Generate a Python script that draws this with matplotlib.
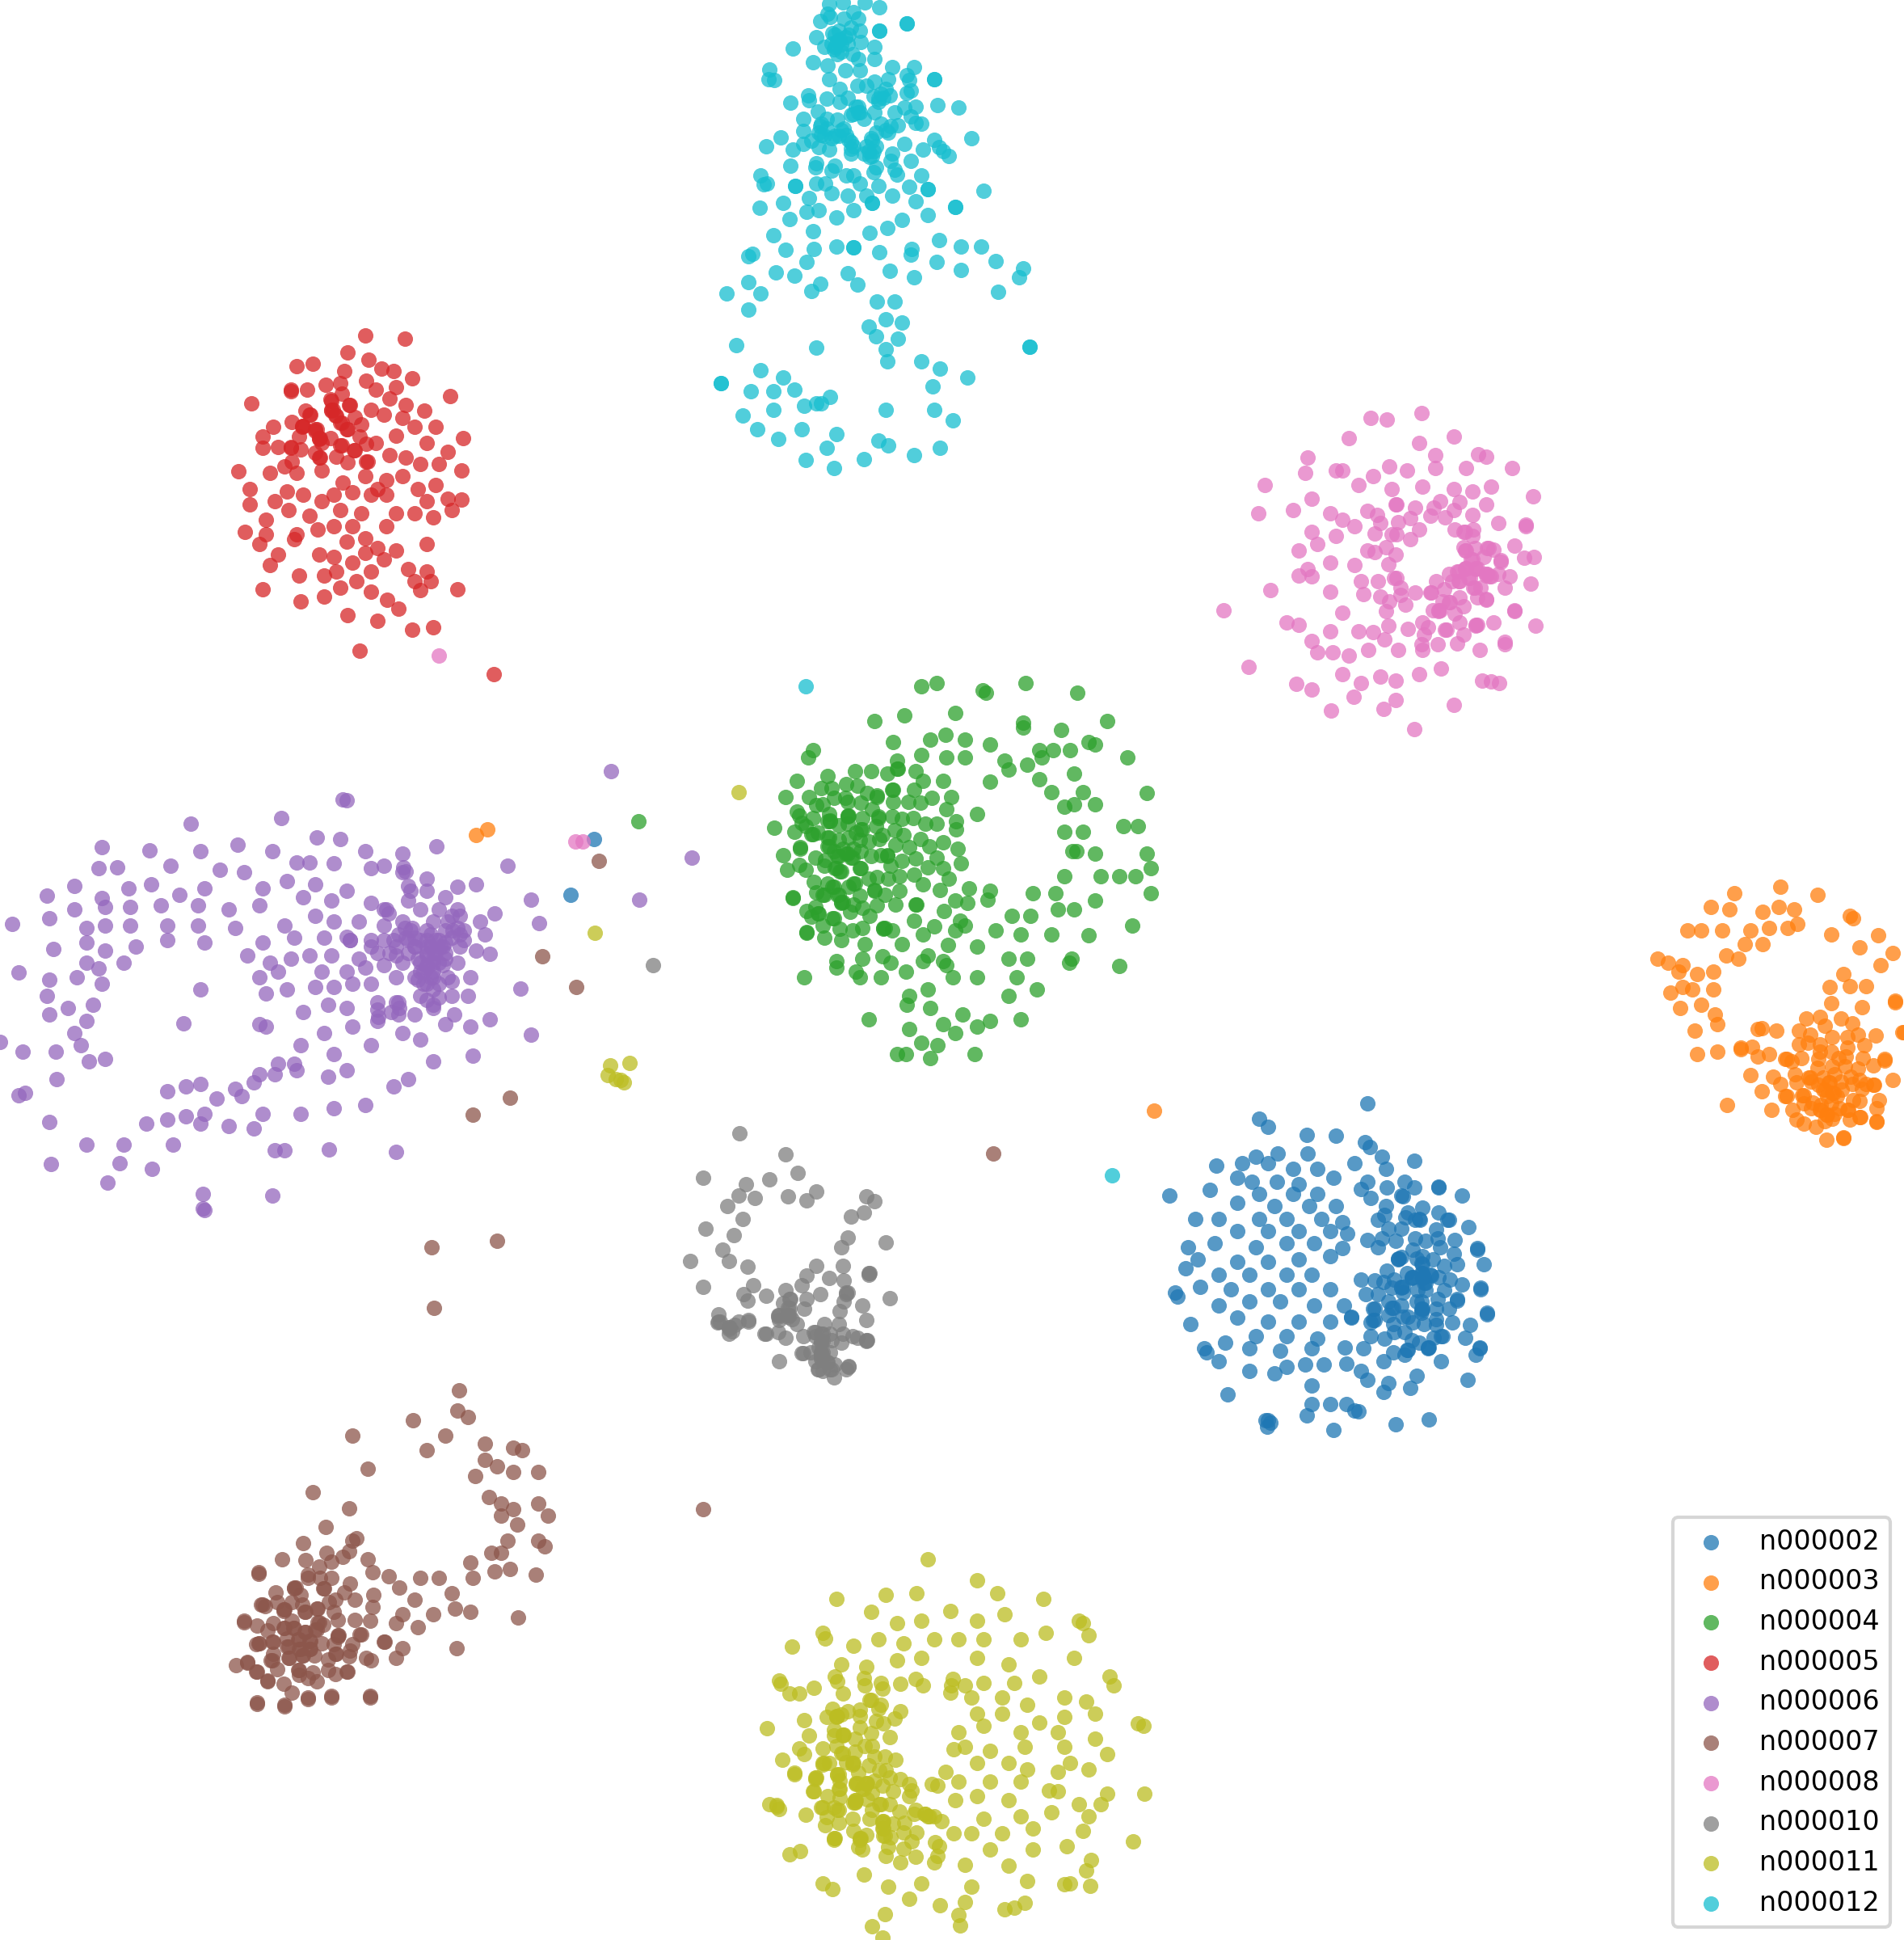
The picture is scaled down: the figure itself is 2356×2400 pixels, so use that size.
import matplotlib
matplotlib.use('Agg')
import matplotlib.pyplot as plt

labels = ['n000002', 'n000003', 'n000004', 'n000005', 'n000006',
          'n000007', 'n000008', 'n000010', 'n000011', 'n000012']

n000002 = [(1105,892),(1018,904),(1025,911),(1056,917),(1080,918),(1103,923),(1107,927),(1117,935),(1015,935),(1033,932),(1057,932),(1143,938),(1004,940),(1025,940),(983,942),(1045,945),(1065,945),(1095,940),(1120,945),(1000,952),(1012,955),(1032,955),(1050,957),(1078,952),(1105,955),(1135,955),(1163,959),(978,962),(1018,965),(1045,965),(1065,965),(945,966),(1000,972),(1030,975),(1058,975),(1080,975),(966,985),(985,985),(1018,985),(1040,985),(1068,985),(1000,995),(1025,995),(1050,995),(1075,995),(960,1008),(982,1005),(1015,1008),(1040,1005),(1062,1005),(968,1018),(1000,1020),(1025,1020),(1050,1018),(1075,1015),(958,1025),(985,1030),(1010,1030),(1040,1030),(1060,1030),(970,1040),(950,1045),(952,1048),(995,1042),(1025,1042),(1050,1042),(1075,1042),(985,1055),(1010,1052),(1035,1052),(1062,1055),(962,1070),(1000,1065),(1025,1068),(1050,1068),(1075,1068),(1015,1080),(1040,1080),(1065,1082),(973,1090),(990,1085),(1010,1090),(1035,1092),(1060,1090),(975,1093),(1040,1105),(1055,1103),(1070,1103),(1088,1102),(1100,1108),(1118,1100),(1135,1095),(1165,1100),(1193,1095),(1010,1108),(985,1100),(1030,1110),(1105,1115),(1122,1118),(1145,1112),(1186,1115),(1060,1120),(992,1127),(1060,1135),(1075,1135),(1088,1135),(1095,1140),(1098,1141),(1140,1122),(1118,1125),(1023,1148),(1025,1148),(1027,1150),(1024,1153),(1056,1144),(1078,1156),(1128,1151),(1155,1147),(461,723),(480,678),
           (1100,961),(1108,968),(1121,960),(1133,966),(1134,967),(1143,960),(1163,960),(1182,966),(1120,975),(1085,988),(1114,986),(1119,982),(1138,980),(1136,984),(1150,976),(1147,985),(1148,986),(1144,986),(1163,980),(1170,986),(1171,986),(1187,992),(1122,993),(1133,993),(1161,994),(1089,997),(1105,1002),(1117,1001),(1114,1008),(1128,1003),(1144,1001),(1152,1003),(1162,1001),(1176,1002),(1164,1008),(1194,1009),(1194,1010),(1085,1009),(1142,1010),(1175,1013),(1130,1017),(1131,1017),(1130,1018),(1133,1016),(1145,1017),(1150,1015),(1158,1018),(1199,1022),(1149,1021),(1150,1022),(1167,1023),(1178,1022),(1121,1027),(1137,1029),(1149,1029),(1150,1029),(1141,1032),(1142,1032),(1141,1033),(1150,1032),(1151,1032),(1150,1033),(1156,1030),(1157,1031),(1163,1032),(1172,1034),(1100,1034),(1111,1035),(1127,1034),(1118,1036),(1151,1037),(1152,1037),(1182,1038),(1197,1041),(1197,1042),(1125,1041),(1133,1040),(1134,1040),(1133,1041),(1104,1046),(1114,1046),(1134,1045),(1146,1043),(1152,1043),(1167,1043),(1162,1050),(1178,1050),(1178,1051),(1149,1052),(1145,1052),(1122,1052),(1133,1055),(1086,1055),(1110,1058),(1111,1058),(1125,1057),(1126,1057),(1149,1058),(1150,1058),(1149,1059),(1161,1058),(1171,1058),(1202,1061),(1202,1062),(1092,1064),(1092,1065),(1110,1067),(1111,1067),(1108,1069),(1122,1063),(1134,1064),(1149,1061),(1161,1066),(1138,1064),(1174,1069),(1126,1070),(1142,1069),(1151,1070),(1161,1071),(1188,1071),(1127,1077),(1135,1077),(1108,1080),(1119,1082),(1159,1081),(1165,1080),(1166,1080),(1184,1081),(1141,1083),(1147,1085),(1154,1089),(1155,1089),(1154,1090),(1087,1089),(1102,1090),(1137,1091),(1138,1091),(1196,1089),(1196,1090),(1126,1093)]

n000003 = [(1439,717),(1402,722),(1469,723),(1383,733),(1398,735),(1425,737),(1438,733),(1450,735),(1453,747),(1495,740),(1498,742),(1364,752),(1375,752),(1392,752),(1415,752),(1430,750),(1445,750),(1518,756),(1410,763),(1425,763),(1480,755),(1503,766),(1530,770),(1340,775),(1348,778),(1360,780),(1395,772),(1405,775),(1520,780),(1357,785),(1385,785),(1372,787),(1490,787),(1360,798),(1368,800),(1385,800),(1479,798),(1495,797),(1508,797),(1350,802),(1358,815),(1375,812),(1532,809),(1386,820),(1388,828),(1370,833),(1388,850),(1372,852),(1396,893),(933,898),(385,675),(394,670),
           (1480,811),(1505,814),(1532,810),(1460,823),(1471,822),(1475,829),(1488,823),(1497,827),(1421,832),(1424,831),(1436,833),(1454,833),(1463,836),(1481,838),(1493,838),(1502,836),(1516,837),(1538,834),(1539,834),(1454,844),(1461,843),(1471,844),(1471,850),(1493,847),(1507,845),(1416,846),(1407,847),(1407,848),(1480,850),(1421,854),(1430,852),(1443,856),(1444,856),(1448,858),(1456,855),(1470,856),(1486,855),(1492,854),(1506,855),(1523,856),(1523,857),(1514,861),(1469,863),(1481,862),(1491,862),(1502,864),(1415,869),(1433,870),(1451,868),(1462,871),(1463,871),(1474,871),(1483,868),(1496,870),(1503,873),(1530,873),(1439,876),(1452,875),(1464,874),(1470,877),(1478,875),(1479,875),(1488,874),(1497,876),(1508,876),(1514,877),(1515,877),(1505,880),(1424,882),(1443,886),(1444,886),(1457,885),(1458,885),(1474,881),(1475,881),(1481,883),(1482,883),(1489,881),(1477,886),(1485,886),(1498,889),(1503,890),(1519,889),(1458,892),(1465,891),(1472,893),(1480,892),(1517,896),(1432,897),(1449,897),(1464,896),(1471,897),(1472,897),(1493,897),(1494,897),(1487,896),(1476,901),(1477,901),(1483,900),(1452,905),(1458,908),(1468,911),(1475,906),(1481,904),(1495,905),(1503,903),(1504,903),(1517,906),(1517,907),(1476,921),(1490,919),(1490,920)]

n000004 = [(757,552),(745,555),(794,558),(797,560),(829,552),(871,560),(772,576),(731,578),(707,583),(827,584),(827,588),(858,590),(895,583),(752,598),(764,594),(722,600),(780,598),(800,602),(880,600),(885,602),(840,606),(865,606),(851,606),(657,606),(653,612),(725,615),(745,610),(765,612),(780,612),(812,615),(830,618),(842,612),(868,625),(911,612),(800,632),(815,622),(840,630),(850,640),(875,640),(927,641),(860,652),(868,650),(885,650),(790,658),(908,668),(920,668),(860,672),(875,672),(870,688),(885,690),(927,690),(867,688),(918,708),(905,708),(890,708),(930,702),(860,708),(930,722),(783,718),(800,720),(835,722),(853,722),(782,730),(798,727),(885,728),(855,735),(818,740),(833,740),(868,735),(915,748),(780,748),(805,752),(825,755),(850,755),(880,756),(790,765),(815,775),(866,775),(864,778),(830,775),(676,782),(692,785),(720,778),(765,780),(905,781),(650,790),(695,790),(712,790),(732,785),(770,790),(790,790),(822,790),(735,805),(750,800),(815,805),(838,800),(702,824),(733,812),(752,815),(778,820),(800,825),(825,824),(762,828),(772,835),(790,830),(735,832),(745,843),(725,852),(732,852),(758,845),(752,855),(788,852),(516,664),
           (644,631),(669,627),(691,623),(704,623),(717,625),(725,621),(726,621),(740,623),(746,631),(762,631),(664,637),(672,637),(684,634),(693,635),(721,638),(722,638),(739,638),(635,644),(654,644),(674,645),(683,645),(685,648),(701,641),(709,643),(709,644),(722,648),(734,648),(744,649),(753,645),(769,644),(660,651),(665,650),(696,649),(705,654),(765,654),(644,656),(646,659),(657,661),(670,658),(685,659),(686,659),(685,660),(697,661),(710,660),(710,661),(721,660),(729,662),(738,661),(748,666),(757,666),(773,664),(773,670),(626,669),(642,672),(648,665),(651,668),(656,674),(657,674),(661,673),(671,663),(671,664),(669,664),(678,667),(685,666),(696,670),(697,670),(692,673),(708,668),(723,671),(730,675),(744,678),(669,677),(670,677),(669,684),(670,684),(678,679),(686,677),(695,679),(702,680),(713,675),(711,678),(724,683),(735,685),(751,684),(762,681),(774,686),(647,685),(647,686),(633,691),(659,693),(667,695),(674,688),(681,686),(684,690),(685,690),(690,686),(696,688),(688,693),(689,693),(677,692),(678,692),(704,692),(712,691),(717,691),(717,692),(729,696),(740,694),(757,693),(646,699),(636,703),(651,703),(666,700),(675,702),(676,702),(679,704),(680,704),(695,702),(696,702),(720,700),(750,701),(762,702),(777,698),(658,713),(702,710),(709,709),(718,710),(727,708),(739,707),(767,710),(746,715),(690,714),(691,714),(686,717),(669,714),(673,717),(674,717),(707,719),(707,720),(760,719),(665,723),(666,723),(660,721),(677,723),(678,723),(695,724),(715,723),(727,720),(641,725),(641,726),(680,729),(681,729),(680,730),(772,728),(690,731),(659,733),(709,732),(724,731),(740,731),(741,731),(763,736),(652,736),(661,738),(662,738),(656,741),(687,737),(697,734),(703,740),(673,742),(674,742),(739,744),(776,744),(665,748),(755,749),(652,753),(652,754),(679,751),(689,752),(697,750),(714,750),(715,750),(714,751),(721,752),(772,752),(746,755),(666,758),(680,760),(699,763),(729,763),(766,764),(750,772),(697,775),(713,773),(676,777),(746,777),(762,777)]

n000005 = [(295,271),(327,274),(281,285),(253,294),(298,291),(308,298),(318,300),(240,296),(320,313),(333,306),(203,326),(364,320),(315,322),(328,327),(343,332),(310,335),(325,338),(335,345),(352,345),(374,354),(320,352),(345,358),(362,365),(212,353),(212,362),(315,368),(328,370),(340,375),(355,375),(373,380),(193,381),(218,382),(240,382),(260,380),(277,390),(295,385),(312,388),(325,385),(338,395),(352,392),(202,395),(232,397),(245,400),(260,405),(270,400),(285,398),(300,400),(312,400),(305,395),(345,405),(362,403),(373,404),(202,408),(222,405),(233,412),(250,417),(275,412),(292,415),(320,415),(335,415),(350,418),(365,412),(198,430),(215,420),(240,432),(257,428),(270,425),(285,425),(312,425),(215,432),(210,440),(238,436),(280,438),(295,435),(320,445),(295,447),(305,443),(225,448),(258,448),(270,450),(345,440),(310,452),(285,455),(272,462),(218,457),(242,465),(300,462),(262,465),(330,460),(345,462),(348,470),(335,470),(288,470),(275,475),(300,478),(212,476),(243,486),(262,482),(313,485),(322,492),(370,476),(340,477),(281,497),(305,502),(333,509),(350,507),(291,526),(399,545),
           (235,315),(235,316),(248,315),(263,311),(275,310),(278,300),(296,308),(276,318),(304,315),(267,323),(268,324),(268,331),(269,331),(268,332),(282,327),(283,327),(300,331),(247,332),(250,335),(251,335),(271,336),(272,336),(275,342),(276,342),(236,341),(221,345),(244,344),(245,344),(244,345),(255,347),(256,347),(255,348),(280,347),(281,347),(287,337),(292,343),(242,353),(258,354),(259,354),(258,355),(267,354),(291,353),(225,361),(235,361),(235,362),(243,363),(260,358),(275,360),(276,360),(296,359),(304,358),(255,366),(258,370),(259,370),(286,364),(287,364),(272,369),(236,373),(230,377),(281,374),(296,373),(297,373)]

n000006 = [(277,646),(280,647),(227,661),(154,666),(256,677),(275,678),(353,684),(82,685),(121,687),(162,688),(192,683),(220,688),(295,688),(325,690),(410,700),(60,716),(38,724),(95,701),(80,702),(138,700),(178,703),(197,705),(240,697),(250,697),(270,698),(300,702),(310,700),(325,705),(82,726),(104,718),(122,715),(145,723),(165,718),(212,718),(232,712),(255,715),(280,720),(345,710),(370,717),(385,715),(429,727),(10,747),(60,735),(85,733),(105,733),(130,732),(160,732),(185,735),(210,732),(245,725),(268,728),(300,730),(312,735),(330,728),(345,720),(360,725),(400,738),(40,742),(43,767),(70,750),(85,748),(105,748),(135,748),(160,748),(190,750),(230,748),(255,740),(270,745),(290,745),(310,748),(325,745),(340,735),(355,735),(372,740),(388,745),(436,746),(70,762),(85,768),(110,765),(135,760),(165,762),(212,762),(238,758),(262,758),(283,760),(300,760),(318,760),(333,750),(345,752),(360,752),(375,752),(392,755),(70,778),(80,783),(100,778),(200,772),(218,778),(235,775),(250,772),(268,772),(290,775),(305,770),(320,772),(335,765),(345,765),(358,765),(372,765),(385,768),(396,771),(15,786),(40,792),(62,790),(82,795),(162,800),(210,790),(225,785),(260,785),(280,785),(295,782),(310,780),(325,778),(340,778),(355,778),(370,778),(38,805),(55,815),(75,812),(215,803),(232,800),(255,798),(270,798),(285,795),(300,795),(320,790),(335,790),(350,790),(362,790),(380,790),(421,799),(70,825),(60,835),(40,820),(45,850),(215,830),(210,828),(148,827),(245,818),(265,812),(280,815),(305,810),(320,810),(340,805),(350,800),(365,805),(378,805),(396,824),(0,842),(18,850),(65,845),(243,845),(262,835),(285,830),(305,825),(322,820),(335,820),(350,815),(367,820),(429,836),(15,885),(20,883),(46,872),(72,858),(85,856),(225,860),(238,860),(270,852),(300,845),(325,835),(340,840),(360,828),(380,830),(210,868),(222,868),(240,865),(280,865),(350,858),(382,853),(330,872),(318,878),(150,878),(162,876),(135,882),(190,880),(205,875),(265,870),(175,888),(195,886),(270,896),(295,893),(150,902),(165,900),(212,900),(243,900),(40,907),(118,908),(135,905),(162,908),(185,910),(205,912),(100,925),(70,925),(140,925),(222,930),(230,930),(266,929),(320,931),(41,941),(97,940),(123,945),(87,956),(164,965),(220,966),(164,977),(165,978),(345,770),(350,775),(340,760),(355,760),(330,770),(335,758),(360,770),(365,758),(348,755),(342,785),(350,785),(345,795),(338,775),(328,758),(370,750),(362,745),(350,745),(345,780),(352,768),(358,780),(375,760),(320,765),(310,760),(315,770),(300,765),(494,623),(559,693),(517,727),
           (322,755),(327,750),(332,752),(345,760),(348,765),(352,760),(356,765),(360,762),(345,772),(350,778),(352,770),(345,782),(340,785),(338,792),(342,795),(348,790),(355,795),(365,793),(345,808),(350,812),(355,806),(322,810),(323,815),(305,816),(306,822),(310,735),(314,738),(370,735),(365,740),(366,752),(372,755),(280,757),(283,760),(330,716),(332,720),(326,701),(328,704),(360,775),(335,765),(330,760),(316,818)]

n000007 = [(371,1124),(334,1148),(370,1140),(378,1145),(285,1160),(360,1160),(345,1172),(392,1167),(415,1170),(422,1172),(392,1180),(297,1187),(402,1185),(384,1193),(415,1190),(435,1190),(253,1206),(395,1210),(405,1215),(415,1220),(435,1215),(282,1219),(405,1225),(443,1225),(263,1234),(418,1232),(435,1245),(440,1250),(285,1245),(288,1243),(245,1247),(410,1245),(380,1263),(405,1255),(397,1255),(382,1275),(400,1270),(412,1268),(433,1273),(355,1275),(340,1275),(323,1283),(365,1288),(335,1293),(368,1300),(380,1303),(350,1305),(419,1307),(325,1305),(320,1312),(338,1315),(369,1332),(325,1332),(320,1340),(484,696),(438,773),(466,798),(382,901),(412,887),(803,932),(349,1008),(402,1003),(351,1057),(568,1220),
           (228,1260),(247,1261),(258,1266),(268,1262),(264,1255),(277,1258),(282,1254),(297,1260),(301,1271),(314,1274),(209,1271),(209,1272),(249,1273),(249,1275),(259,1275),(268,1275),(238,1283),(239,1283),(238,1284),(283,1280),(261,1284),(262,1284),(278,1287),(223,1287),(243,1289),(302,1289),(211,1297),(212,1297),(214,1298),(224,1295),(236,1295),(271,1293),(287,1293),(229,1301),(230,1301),(229,1302),(244,1297),(266,1295),(301,1299),(246,1303),(247,1303),(256,1300),(257,1300),(270,1303),(197,1310),(197,1311),(208,1314),(221,1312),(236,1310),(257,1311),(258,1311),(273,1309),(287,1309),(299,1310),(261,1313),(216,1318),(229,1316),(230,1316),(237,1316),(238,1316),(246,1319),(247,1319),(255,1317),(256,1317),(273,1322),(274,1322),(273,1323),(291,1321),(292,1321),(220,1327),(221,1327),(232,1324),(241,1325),(242,1325),(250,1326),(251,1326),(260,1328),(270,1329),(209,1328),(210,1328),(207,1329),(310,1327),(311,1327),(232,1331),(233,1331),(242,1333),(243,1333),(250,1333),(251,1333),(285,1329),(283,1334),(271,1337),(272,1337),(221,1337),(233,1340),(234,1340),(244,1338),(245,1338),(254,1338),(265,1341),(282,1339),(296,1340),(300,1342),(219,1342),(220,1342),(200,1343),(200,1344),(191,1346),(207,1351),(208,1351),(224,1349),(241,1350),(242,1350),(253,1352),(265,1350),(271,1353),(280,1351),(281,1351),(216,1358),(216,1359),(229,1361),(242,1354),(249,1356),(256,1359),(236,1368),(208,1376),(208,1377),(230,1378),(230,1379),(249,1372),(249,1373),(268,1371),(268,1372),(299,1371),(299,1372)]

n000008 = [(1149,334),(1108,338),(1121,339),(1090,354),(1147,358),(1175,353),(1195,367),(1201,369),(1057,370),(1055,382),(1080,380),(1085,380),(1123,377),(1137,380),(1160,368),(1160,378),(1185,378),(1222,378),(1022,392),(1060,403),(1098,392),(1110,385),(1125,395),(1150,393),(1175,395),(1190,397),(1205,393),(1239,401),(1017,415),(1045,412),(1075,415),(1085,420),(1105,413),(1060,430),(1095,425),(1050,445),(1065,440),(1080,433),(1105,445),(1057,460),(1075,455),(1095,457),(1050,465),(1060,466),(1100,470),(1027,477),(1075,478),(1102,480),(1085,495),(989,493),(1040,503),(1050,505),(1060,518),(1075,510),(1098,510),(1065,527),(1077,527),(1090,530),(1106,525),(1130,525),(1150,525),(1196,525),(1009,539),(1048,553),(1060,557),(1085,545),(1100,552),(1116,547),(1128,550),(1147,545),(1165,540),(1198,550),(1205,551),(1212,552),(1076,574),(1094,563),(1118,573),(1128,566),(1175,570),(1143,589),(355,530),(465,680),(471,680),
           (1128,408),(1129,408),(1144,410),(1159,410),(1164,405),(1175,412),(1180,406),(1201,408),(1113,416),(1156,417),(1168,418),(1190,416),(1116,423),(1130,422),(1140,419),(1211,423),(1233,424),(1233,425),(1147,428),(1176,428),(1183,430),(1184,430),(1191,428),(1111,431),(1125,432),(1129,432),(1140,436),(1190,433),(1183,442),(1120,442),(1184,445),(1185,445),(1192,443),(1202,443),(1203,443),(1207,444),(1224,441),(1128,448),(1111,446),(1189,452),(1190,452),(1199,450),(1213,453),(1213,454),(1232,451),(1240,450),(1122,456),(1193,459),(1194,459),(1193,460),(1184,459),(1185,459),(1184,460),(1178,462),(1179,462),(1171,464),(1201,464),(1202,464),(1201,465),(1204,466),(1205,466),(1211,464),(1220,466),(1129,467),(1127,467),(1114,470),(1161,470),(1187,467),(1188,467),(1179,470),(1180,470),(1174,470),(1237,472),(1132,475),(1216,475),(1167,476),(1191,475),(1192,475),(1197,475),(1156,479),(1157,479),(1144,479),(1116,482),(1132,481),(1123,486),(1194,483),(1180,483),(1201,484),(1201,485),(1136,489),(1166,486),(1171,487),(1172,487),(1183,490),(1120,494),(1163,493),(1164,493),(1163,494),(1158,493),(1176,496),(1224,493),(1224,494),(1180,503),(1150,503),(1207,503),(1193,505),(1194,505),(1193,506),(1122,506),(1138,508),(1154,507),(1151,513),(1168,509),(1169,509),(1241,506),(1110,511),(1183,513),(1119,517),(1216,519),(1149,521),(1162,521),(1178,520),(1216,521)]

n000010 = [(598,916),(635,933),(568,952),(645,948),(603,957),(622,953),(597,966),(610,968),(588,975),(637,967),(660,963),(652,970),(700,967),(707,971),(600,985),(570,993),(593,998),(688,983),(698,980),(716,1004),(685,1000),(680,1008),(558,1019),(584,1010),(719,1049),(528,780),
           (589,1019),(604,1024),(660,1023),(681,1023),(702,1029),(703,1029),(702,1030),(652,1031),(670,1033),(568,1040),(609,1039),(648,1039),(682,1035),(601,1046),(604,1051),(619,1047),(635,1043),(663,1046),(684,1045),(685,1045),(684,1046),(638,1050),(639,1050),(633,1053),(652,1050),(682,1052),(697,1055),(650,1058),(637,1057),(638,1057),(679,1060),(581,1062),(629,1063),(630,1063),(629,1064),(637,1063),(638,1063),(637,1064),(700,1067),(581,1068),(582,1068),(597,1068),(605,1067),(580,1069),(605,1068),(630,1067),(640,1066),(589,1073),(590,1073),(589,1074),(594,1071),(592,1076),(589,1078),(644,1070),(666,1070),(678,1070),(618,1078),(619,1078),(629,1077),(635,1081),(649,1080),(658,1077),(659,1077),(659,1080),(664,1078),(665,1078),(671,1078),(681,1078),(689,1080),(693,1081),(700,1083),(701,1083),(700,1084),(664,1084),(665,1084),(664,1085),(672,1083),(680,1085),(662,1089),(648,1094),(649,1094),(655,1093),(664,1093),(665,1093),(664,1094),(671,1093),(664,1097),(665,1097),(664,1098),(659,1100),(630,1100),(668,1101),(669,1101),(675,1103),(686,1104),(686,1105),(661,1107),(662,1107),(671,1107),(672,1107),(665,1108),(684,1107),(674,1113)]

n000011 = [(750,1260),(790,1277),(741,1288),(716,1289),(806,1288),(843,1292),(676,1292),(768,1302),(704,1303),(872,1310),(875,1312),(880,1322),(665,1320),(667,1324),(725,1312),(745,1310),(790,1310),(812,1305),(640,1331),(690,1330),(710,1325),(730,1328),(755,1325),(775,1325),(795,1325),(825,1325),(845,1320),(680,1345),(700,1347),(725,1342),(745,1340),(790,1340),(815,1345),(868,1340),(897,1355),(900,1362),(630,1358),(675,1355),(698,1356),(740,1357),(770,1357),(780,1362),(795,1360),(820,1360),(840,1355),(785,1372),(810,1372),(830,1378),(860,1372),(878,1375),(885,1385),(790,1385),(810,1385),(840,1392),(860,1388),(620,1397),(920,1393),(924,1395),(775,1400),(795,1395),(825,1400),(855,1400),(885,1405),(780,1412),(800,1415),(828,1412),(860,1412),(895,1418),(790,1425),(815,1425),(830,1430),(865,1425),(880,1430),(775,1440),(800,1440),(825,1440),(855,1432),(848,1447),(895,1450),(925,1450),(772,1455),(790,1452),(815,1455),(855,1448),(872,1458),(890,1458),(622,1458),(795,1470),(825,1468),(850,1465),(880,1468),(785,1482),(810,1482),(835,1478),(875,1480),(916,1488),(800,1495),(835,1495),(862,1492),(728,1505),(755,1505),(780,1507),(815,1508),(882,1503),(878,1512),(665,1522),(673,1527),(698,1515),(718,1525),(745,1522),(785,1525),(830,1520),(860,1523),(865,1522),(881,1524),(735,1535),(760,1540),(780,1537),(812,1543),(820,1542),(828,1538),(715,1547),(775,1548),(776,1556),(705,1557),(713,1566),(597,640),(481,754),(493,861),(509,859),(491,869),(498,872),(504,875),(502,873),
           (631,1361),(638,1369),(646,1369),(658,1364),(677,1359),(681,1369),(699,1362),(713,1365),(712,1360),(728,1361),(746,1362),(769,1362),(768,1368),(703,1374),(704,1374),(712,1378),(710,1381),(673,1381),(685,1383),(695,1382),(728,1383),(668,1388),(676,1387),(677,1387),(676,1388),(680,1386),(695,1387),(650,1390),(723,1389),(708,1391),(714,1393),(674,1398),(695,1396),(704,1401),(654,1403),(681,1402),(682,1402),(681,1403),(674,1403),(691,1405),(719,1404),(665,1413),(676,1411),(699,1411),(705,1411),(646,1413),(650,1418),(680,1417),(681,1417),(691,1416),(771,1414),(632,1422),(665,1425),(666,1425),(665,1426),(670,1425),(684,1424),(689,1425),(690,1425),(689,1426),(707,1420),(715,1420),(724,1422),(702,1427),(764,1432),(642,1433),(642,1434),(677,1434),(678,1434),(677,1435),(711,1431),(716,1431),(694,1433),(659,1437),(660,1437),(659,1438),(728,1438),(719,1437),(679,1439),(692,1441),(693,1441),(692,1442),(700,1441),(701,1441),(700,1442),(707,1439),(713,1443),(735,1442),(753,1442),(758,1443),(657,1448),(658,1448),(678,1446),(679,1446),(697,1446),(698,1446),(705,1449),(722,1448),(737,1447),(735,1452),(669,1452),(679,1453),(691,1455),(692,1455),(691,1456),(701,1454),(711,1458),(712,1458),(719,1458),(628,1459),(628,1460),(630,1462),(664,1461),(665,1461),(674,1461),(677,1463),(678,1463),(690,1457),(691,1457),(705,1463),(727,1464),(740,1463),(747,1466),(748,1466),(750,1468),(751,1468),(755,1468),(651,1467),(668,1469),(689,1470),(703,1470),(713,1472),(714,1472),(713,1473),(739,1466),(761,1472),(678,1473),(667,1475),(731,1473),(722,1474),(713,1478),(714,1478),(690,1480),(700,1483),(741,1481),(771,1482),(730,1481),(714,1484),(715,1484),(720,1485),(674,1486),(675,1486),(674,1487),(695,1486),(696,1486),(695,1487),(737,1488),(756,1489),(759,1492),(694,1493),(697,1495),(718,1493),(730,1494),(638,1499),(647,1496),(716,1500),(740,1501),(758,1500)]

n000012 = [(670,3),(681,2),(699,2),(711,6),(733,19),(733,19),(669,11),(663,17),(671,14),(682,15),(690,10),(694,15),(711,25),(711,25),(660,30),(673,27),(679,32),(686,28),(695,25),(696,34),(641,39),(707,38),(666,38),(675,38),(677,44),(689,44),(694,48),(707,48),(657,50),(669,53),(683,57),(695,57),(721,54),(739,54),(622,56),(621,64),(626,65),(670,64),(733,61),(735,65),(755,64),(755,64),(707,66),(718,64),(693,69),(700,69),(716,72),(679,72),(736,73),(733,75),(653,77),(654,81),(639,83),(668,80),(679,82),(685,79),(706,78),(714,79),(710,82),(719,77),(758,85),(775,87),(694,86),(661,90),(694,91),(707,91),(723,91),(731,87),(740,86),(649,96),(668,96),(677,97),(688,93),(698,96),(712,100),(736,94),(740,99),(745,100),(726,101),(649,106),(663,102),(664,109),(682,104),(675,110),(708,107),(718,107),(785,112),(755,113),(631,111),(619,118),(641,121),(649,116),(656,114),(662,119),(670,121),(688,115),(705,114),(731,116),(746,121),(759,119),(762,122),(767,126),(688,124),(706,122),(703,127),(721,124),(720,130),(736,130),(660,132),(639,134),(659,135),(675,134),(672,138),(684,142),(690,142),(706,139),(708,135),(723,137),(725,141),(745,142),(615,142),(620,148),(617,149),(643,150),(643,150),(660,148),(667,148),(695,148),(710,150),(735,151),(750,153),(750,153),(795,154),(672,156),(685,158),(654,160),(700,158),(705,164),(705,164),(721,158),(740,163),(633,164),(614,168),(652,171),(662,170),(690,170),(772,167),(772,167),(638,177),(676,176),(750,174),(729,178),(717,184),(703,188),(657,187),(625,190),(759,194),(777,199),(793,199),(635,202),(658,201),(676,199),(690,200),(690,200),(737,201),(736,206),(711,204),(608,205),(605,207),(757,212),(805,211),(652,212),(719,219),(777,218),(827,217),(824,224),(627,220),(685,221),(642,223),(739,224),(605,228),(663,229),(656,235),(693,230),(587,237),(615,237),(807,236),(709,244),(723,244),(605,250),(716,258),(729,261),(702,264),(708,272),(726,274),(832,280),(832,280),(595,279),(660,281),(716,282),(717,292),(745,292),(760,298),(782,305),(583,310),(583,310),(615,299),(633,305),(607,316),(625,316),(642,315),(754,312),(671,321),(660,326),(600,336),(625,331),(650,328),(664,326),(716,331),(755,331),(770,340),(612,347),(629,355),(648,347),(676,351),(710,356),(718,360),(668,362),(698,371),(651,372),(674,378),(739,368),(760,362),(651,555),(899,950),
           (675,28),(677,33),(680,36),(683,30),(672,35),(678,25),(685,35),(674,40),(680,42),(688,22),(664,100),(668,104),(662,107),(666,110),(680,105),(684,109),(678,110),(686,113),(690,118),(688,120),(704,112),(708,118),(702,122),(705,126),(692,86),(695,91),(690,92),(712,76),(710,80),(716,105),(720,102),(672,112),(700,118),(698,124)]

series = [n000002, n000003, n000004, n000005, n000006,
          n000007, n000008, n000010, n000011, n000012]

fig = plt.figure(figsize=(2356 / 300, 2400 / 300), dpi=300)
ax = fig.add_axes([0, 0, 1, 1])

for name, pts in zip(labels, series):
    xs = [p[0] for p in pts]
    ys = [p[1] for p in pts]
    ax.scatter(xs, ys, s=21, alpha=0.75, linewidths=0, label=name)

ax.set_xlim(0, 1539)
ax.set_ylim(1568, 0)
ax.axis('off')

ax.legend(loc='lower right', fontsize=8, borderaxespad=0,
          bbox_to_anchor=(2339 / 2356, 1 - 2384 / 2400), bbox_transform=fig.transFigure)

fig.savefig('out.png', dpi=300)
